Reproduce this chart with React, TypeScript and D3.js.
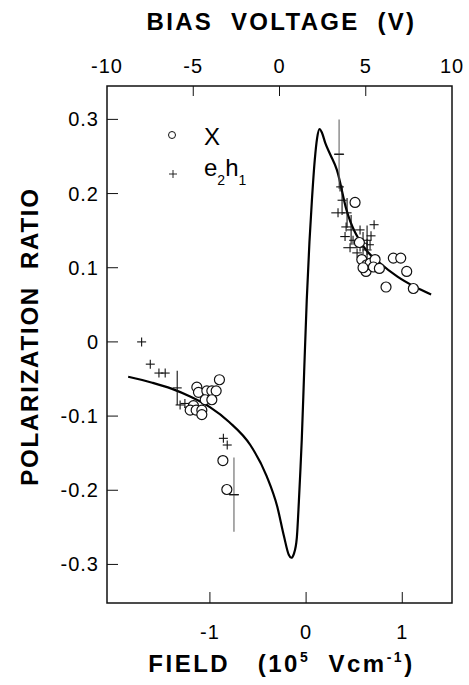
import * as d3 from 'd3';

// axis ticks
const fieldTicks = [-1, 0, 1];
const fieldTickLabels = ['-1', '0', '1'];
const voltTicks = [-10, -5, 0, 5, 10];
const voltTickLabels = ['-10', '-5', '0', '5', '10'];
const ratioTicks = [0.3, 0.2, 0.1, 0, -0.1, -0.2, -0.3];
const ratioTickLabels = ['0.3', '0.2', '0.1', '0', '-0.1', '-0.2', '-0.3'];

// theory curve
const curveField = [
  -1.85, -1.6, -1.4, -1.2, -1.0, -0.8, -0.58, -0.41, -0.3, -0.23, -0.18, -0.155,
  -0.125, -0.097, -0.075, -0.06, -0.045, -0.02, 0.007, 0.035, 0.06, 0.09, 0.115,
  0.14, 0.165, 0.2, 0.25, 0.32, 0.42, 0.6, 0.77, 0.95, 1.12, 1.3,
];
const curveRatio = [
  -0.047, -0.055, -0.063, -0.074, -0.088, -0.108, -0.139, -0.181, -0.222, -0.262,
  -0.287, -0.291, -0.285, -0.265, -0.215, -0.175, -0.132, -0.04, 0.057, 0.135,
  0.19, 0.245, 0.275, 0.287, 0.282, 0.268, 0.253, 0.232, 0.178, 0.128, 0.106,
  0.088, 0.075, 0.064,
];

// X points (circles)
const xField = [
  -1.136, -1.119, -1.032, -0.98, -0.935, -0.901, -1.049, -0.98, -1.171, -1.205,
  -1.143, -1.084, -1.084, -0.865, -0.824,
  0.509, 0.554, 0.579, 0.623, 0.631, 0.665, 0.717, 0.7, 0.762, 0.831, 0.907,
  0.984, 1.046, 1.115, 0.592,
];
const xRatio = [
  -0.061, -0.068, -0.066, -0.066, -0.066, -0.051, -0.078, -0.078, -0.086, -0.092,
  -0.092, -0.092, -0.098, -0.16, -0.199,
  0.188, 0.134, 0.111, 0.095, 0.104, 0.106, 0.111, 0.101, 0.099, 0.074, 0.113,
  0.113, 0.095, 0.072, 0.1,
];

// e2h1 points (crosses) with error half-widths
const ehField = [
  -1.71, -1.62, -1.53, -1.465, -1.34, -1.31, -1.26, -1.22, -0.86, -0.82, -0.75,
  0.343, 0.353, 0.374, 0.332, 0.426, 0.416, 0.468, 0.405, 0.561, 0.707, 0.488,
  0.634, 0.665, 0.457, 0.561, 0.634, 0.53, 0.592, 0.675,
];
const ehRatio = [
  0.0, -0.03, -0.042, -0.042, -0.062, -0.085, -0.083, -0.088, -0.13, -0.139, -0.206,
  0.253, 0.209, 0.191, 0.174, 0.174, 0.155, 0.151, 0.142, 0.151, 0.158, 0.137,
  0.137, 0.131, 0.127, 0.128, 0.124, 0.12, 0.133, 0.143,
];
const ehFieldErr = [
  0, 0, 0, 0, 0, 0, 0, 0, 0, 0, 0,
  0, 0.04, 0, 0.07, 0, 0.05, 0, 0.05, 0, 0, 0.04,
  0, 0.04, 0.07, 0.04, 0, 0.05, 0, 0,
];
const ehRatioErr = [
  0, 0, 0, 0, 0.023, 0, 0, 0, 0, 0, 0.05,
  0.047, 0, 0.02, 0, 0.02, 0, 0.02, 0, 0, 0, 0,
  0.02, 0, 0, 0, 0.015, 0, 0.015, 0,
];

const W = 469;
const H = 685;
const left = 107;
const right = 452;
const top = 86;
const bottom = 603;

const x = d3.scaleLinear().domain([-2.07, 1.517]).range([left, right]);
const xv = d3.scaleLinear().domain([-10, 10]).range([left, right]);
const y = d3.scaleLinear().domain([-0.352, 0.345]).range([bottom, top]);

const font = '"Liberation Sans", Arial, Helvetica, sans-serif';
const sp = '\u00a0';

const App = () => {
  const line = d3
    .line<number>()
    .x((d, i) => x(curveField[i]))
    .y((d) => y(d))
    .curve(d3.curveMonotoneX);

  return (
    <div style={{ position: 'absolute', left: 0, top: 0 }}>
      <svg width={W} height={H} style={{ display: 'block', background: '#fff' }} fontFamily={font}>
        {/* titles */}
        <text x={(left + right) / 2 + 2} y={30} textAnchor="middle" fontSize={24} fontWeight="bold" letterSpacing={2.3}>
          {`BIAS${sp}${sp}VOLTAGE${sp}${sp}(V)`}
        </text>
        <text
          transform={`translate(38,${(top + bottom) / 2 - 8}) rotate(-90)`}
          textAnchor="middle"
          fontSize={24}
          fontWeight="bold"
          letterSpacing={1.8}
        >
          {`POLARIZATION${sp}${sp}RATIO`}
        </text>
        <text x={(left + right) / 2 + 2} y={672} textAnchor="middle" fontSize={24} fontWeight="bold" letterSpacing={2.5}>
          <tspan>{`FIELD${sp}${sp}${sp}(10`}</tspan>
          <tspan fontSize={14} dy={-10}>5</tspan>
          <tspan dy={10}>{`${sp}${sp}Vcm`}</tspan>
          <tspan fontSize={14} dy={-10}>-1</tspan>
          <tspan dy={10}>)</tspan>
        </text>

        {/* frame */}
        <rect x={left} y={top} width={right - left} height={bottom - top} fill="none" stroke="#111" strokeWidth={1.5} />

        {/* top axis */}
        {voltTicks.map((v, i) => (
          <g key={'v' + i}>
            {i > 0 && i < voltTicks.length - 1 && (
              <line x1={xv(v)} x2={xv(v)} y1={top} y2={top + 10} stroke="#111" strokeWidth={1} />
            )}
            <text x={xv(v)} y={73} textAnchor="middle" fontSize={20} letterSpacing={1}>
              {voltTickLabels[i]}
            </text>
          </g>
        ))}

        {/* bottom axis */}
        {fieldTicks.map((v, i) => (
          <g key={'f' + i}>
            <line x1={x(v)} x2={x(v)} y1={bottom} y2={bottom - 11} stroke="#111" strokeWidth={1} />
            <text x={x(v)} y={639} textAnchor="middle" fontSize={20} letterSpacing={1}>
              {fieldTickLabels[i]}
            </text>
          </g>
        ))}

        {/* left axis */}
        {ratioTicks.map((v, i) => (
          <g key={'r' + i}>
            <line x1={left} x2={left + 11} y1={y(v)} y2={y(v)} stroke="#111" strokeWidth={1} />
            <text x={99} y={y(v) + 7} textAnchor="end" fontSize={20} letterSpacing={1}>
              {ratioTickLabels[i]}
            </text>
          </g>
        ))}

        {/* theory */}
        <path d={line(curveRatio) || ''} fill="none" stroke="#000" strokeWidth={2.2} />

        {/* e2h1 crosses */}
        {ehField.map((f, i) => {
          const cx = x(f);
          const cy = y(ehRatio[i]);
          const hx = ehFieldErr[i] ? x(f + ehFieldErr[i]) - cx : 4.5;
          const hy = ehRatioErr[i] ? y(ehRatio[i] - ehRatioErr[i]) - cy : 4.5;
          return (
            <g key={'e' + i} stroke="#111" strokeWidth={1.1}>
              <line x1={cx - hx} x2={cx + hx} y1={cy} y2={cy} />
              <line x1={cx} x2={cx} y1={cy - hy} y2={cy + hy} stroke={ehRatioErr[i] > 0.03 ? '#666' : '#111'} />
              {ehRatioErr[i] > 0.03 && <line x1={cx - 5} x2={cx + 5} y1={cy} y2={cy} />}
            </g>
          );
        })}

        {/* X circles */}
        {xField.map((f, i) => (
          <circle key={'x' + i} cx={x(f)} cy={y(xRatio[i])} r={5} fill="#fff" stroke="#111" strokeWidth={1.2} />
        ))}

        {/* legend */}
        <circle cx={172} cy={135} r={3.5} fill="#fff" stroke="#111" strokeWidth={1} />
        <text x={204} y={145} fontSize={24}>X</text>
        <line x1={169} x2={177} y1={174} y2={174} stroke="#111" strokeWidth={0.9} />
        <line x1={173} x2={173} y1={170} y2={178} stroke="#111" strokeWidth={0.9} />
        <text x={204} y={176} fontSize={24}>
          <tspan>e</tspan>
          <tspan fontSize={14} dy={9}>2</tspan>
          <tspan dy={-9}>h</tspan>
          <tspan fontSize={14} dy={9}>1</tspan>
        </text>
      </svg>
    </div>
  );
};

export default App;
